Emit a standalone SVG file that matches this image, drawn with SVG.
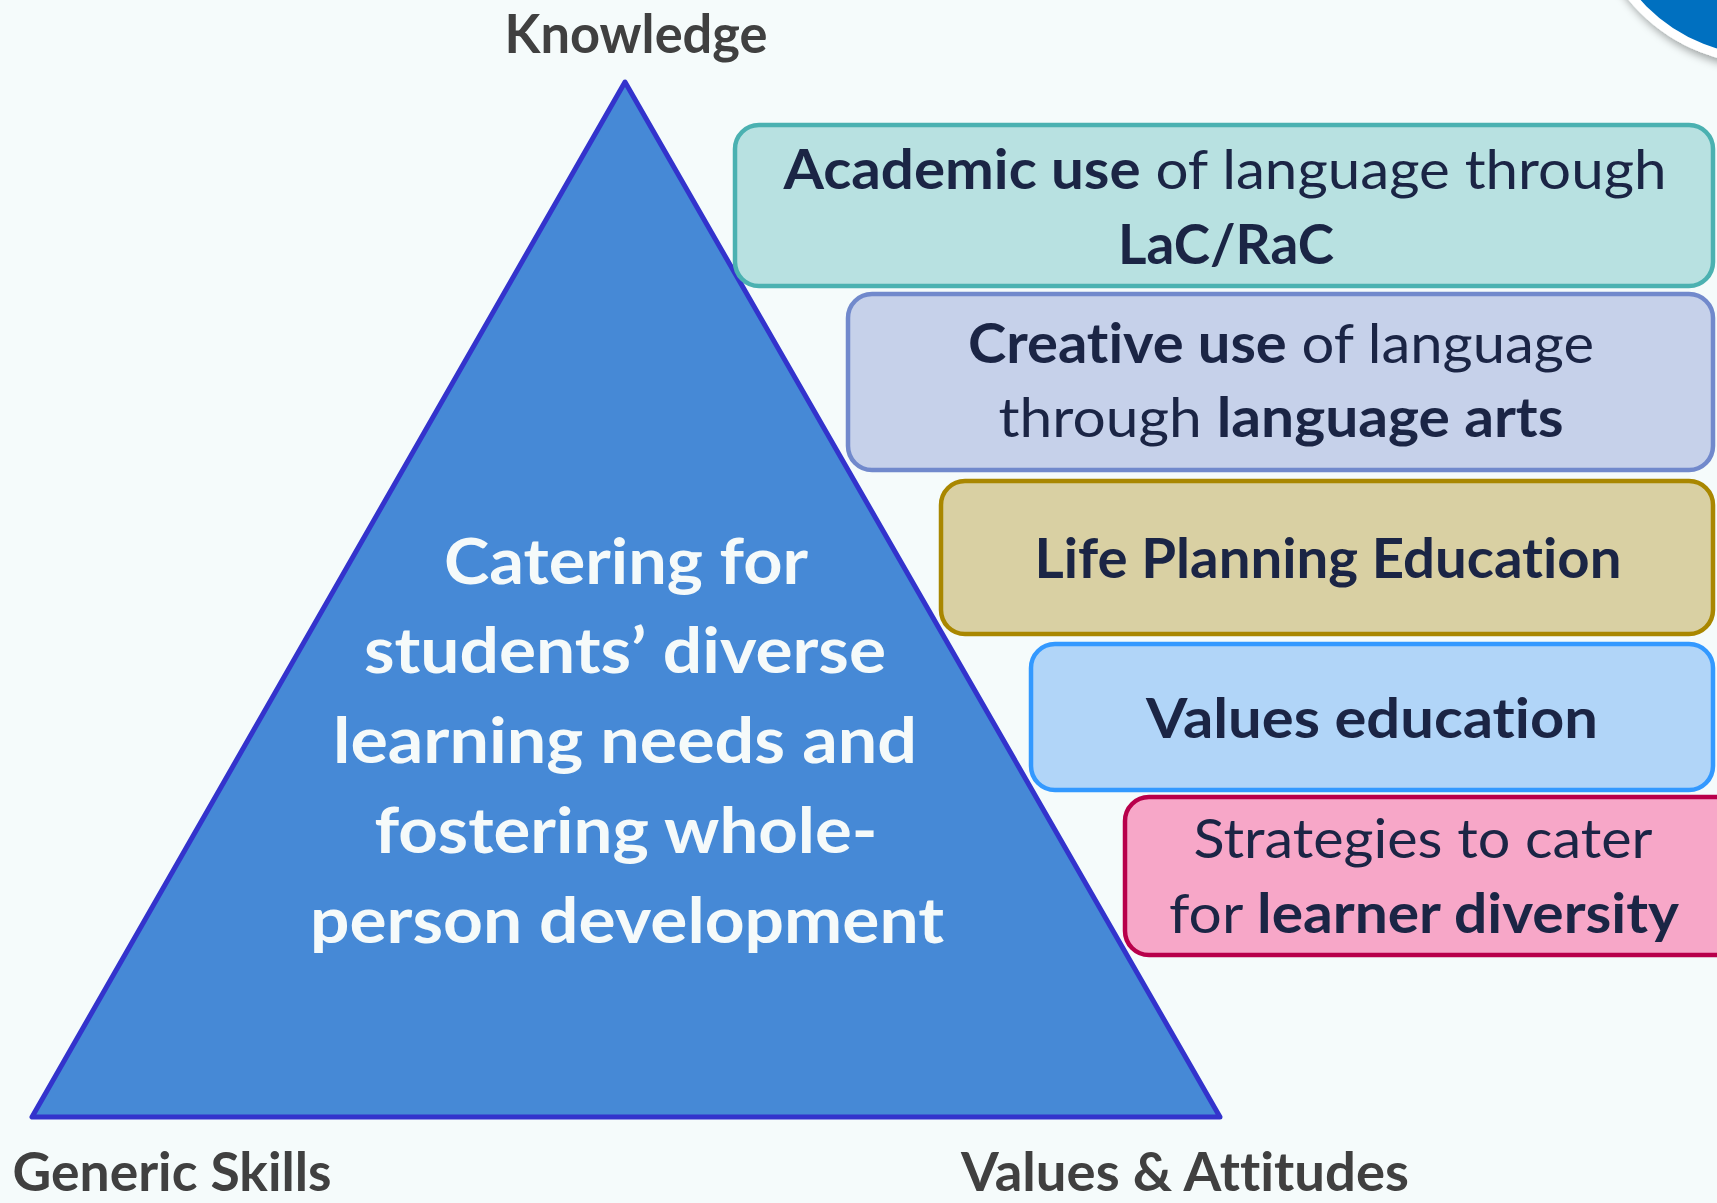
<svg xmlns="http://www.w3.org/2000/svg" width="1717" height="1203" viewBox="0 0 1717 1203">
<defs>
<filter id="sh" x="-30%" y="-30%" width="160%" height="160%">
<feDropShadow dx="3" dy="5" stdDeviation="4" flood-color="#000" flood-opacity="0.35"/>
</filter>
</defs>
<style>
text{font-family:Lato,"Open Sans","Liberation Sans",sans-serif;text-anchor:middle;font-variant-ligatures:none;font-feature-settings:"liga" 0,"clig" 0,"dlig" 0}
.lbl{font-weight:bold;font-size:53px;fill:#404040}
.tri{font-weight:bold;font-size:64px;fill:#F5FAFA}
.bx{font-size:55px;fill:#1B2545}
.b{font-weight:bold}
.box{stroke-width:4.5}
</style>
<rect width="1717" height="1203" fill="#F5FBFB"/>
<g id="badge">
<circle cx="1765" cy="-112" r="172" fill="#0070C0" stroke="#FFFFFF" stroke-width="9" filter="url(#sh)"/>
</g>
<g id="pyramid">
<polygon points="625,82 32,1117 1220,1117" fill="#4689D6" stroke="#3333CC" stroke-width="5" stroke-linejoin="round"/>
<text class="tri" x="626" y="584" textLength="364" lengthAdjust="spacingAndGlyphs">Catering for</text>
<text class="tri" x="625" y="673" textLength="522" lengthAdjust="spacingAndGlyphs">students’ diverse</text>
<text class="tri" x="625" y="763" textLength="584" lengthAdjust="spacingAndGlyphs">learning needs and</text>
<text class="tri" x="626" y="853" textLength="503" lengthAdjust="spacingAndGlyphs">fostering whole-</text>
<text class="tri" x="627" y="943" textLength="634" lengthAdjust="spacingAndGlyphs">person development</text>
</g>
<g id="label-knowledge"><text class="lbl" x="636" y="53" textLength="263" lengthAdjust="spacingAndGlyphs">Knowledge</text></g>
<g id="label-generic"><text class="lbl" x="172" y="1191" textLength="319" lengthAdjust="spacingAndGlyphs">Generic Skills</text></g>
<g id="label-values"><text class="lbl" x="1185" y="1191" textLength="448" lengthAdjust="spacingAndGlyphs">Values &amp; Attitudes</text></g>
<g id="box-academic">
<rect class="box" x="735" y="125" width="978" height="161" rx="24" fill="#B8E1E1" stroke="#4BB1B1"/>
<text class="bx" x="1225" y="189" textLength="883" lengthAdjust="spacingAndGlyphs"><tspan class="b">Academic use</tspan> of language through</text>
<text class="bx b" x="1226" y="264" textLength="216" lengthAdjust="spacingAndGlyphs">LaC/RaC</text>
</g>
<g id="box-creative">
<rect class="box" x="848" y="294" width="865" height="176" rx="24" fill="#C6D1EA" stroke="#7189CC"/>
<text class="bx" x="1281" y="363" textLength="626" lengthAdjust="spacingAndGlyphs"><tspan class="b">Creative use</tspan> of language</text>
<text class="bx" x="1281" y="437" textLength="565" lengthAdjust="spacingAndGlyphs">through <tspan class="b">language arts</tspan></text>
</g>
<g id="box-life">
<rect class="box" x="941" y="481" width="772" height="153" rx="24" fill="#D9D0A3" stroke="#A98700"/>
<text class="bx b" x="1328" y="578" textLength="587" lengthAdjust="spacingAndGlyphs">Life Planning Education</text>
</g>
<g id="box-values">
<rect class="box" x="1031" y="644" width="682" height="146" rx="24" fill="#B1D5F8" stroke="#3399FF"/>
<text class="bx b" x="1372" y="738" textLength="452" lengthAdjust="spacingAndGlyphs" fill="#000000">Values education</text>
</g>
<g id="box-strategies">
<rect class="box" x="1125" y="797" width="620" height="158" rx="24" fill="#F7A7C8" stroke="#B8004B"/>
<text class="bx" x="1423" y="858" textLength="459" lengthAdjust="spacingAndGlyphs">Strategies to cater</text>
<text class="bx" x="1424" y="933" textLength="510" lengthAdjust="spacingAndGlyphs">for <tspan class="b">learner diversity</tspan></text>
</g>
</svg>
